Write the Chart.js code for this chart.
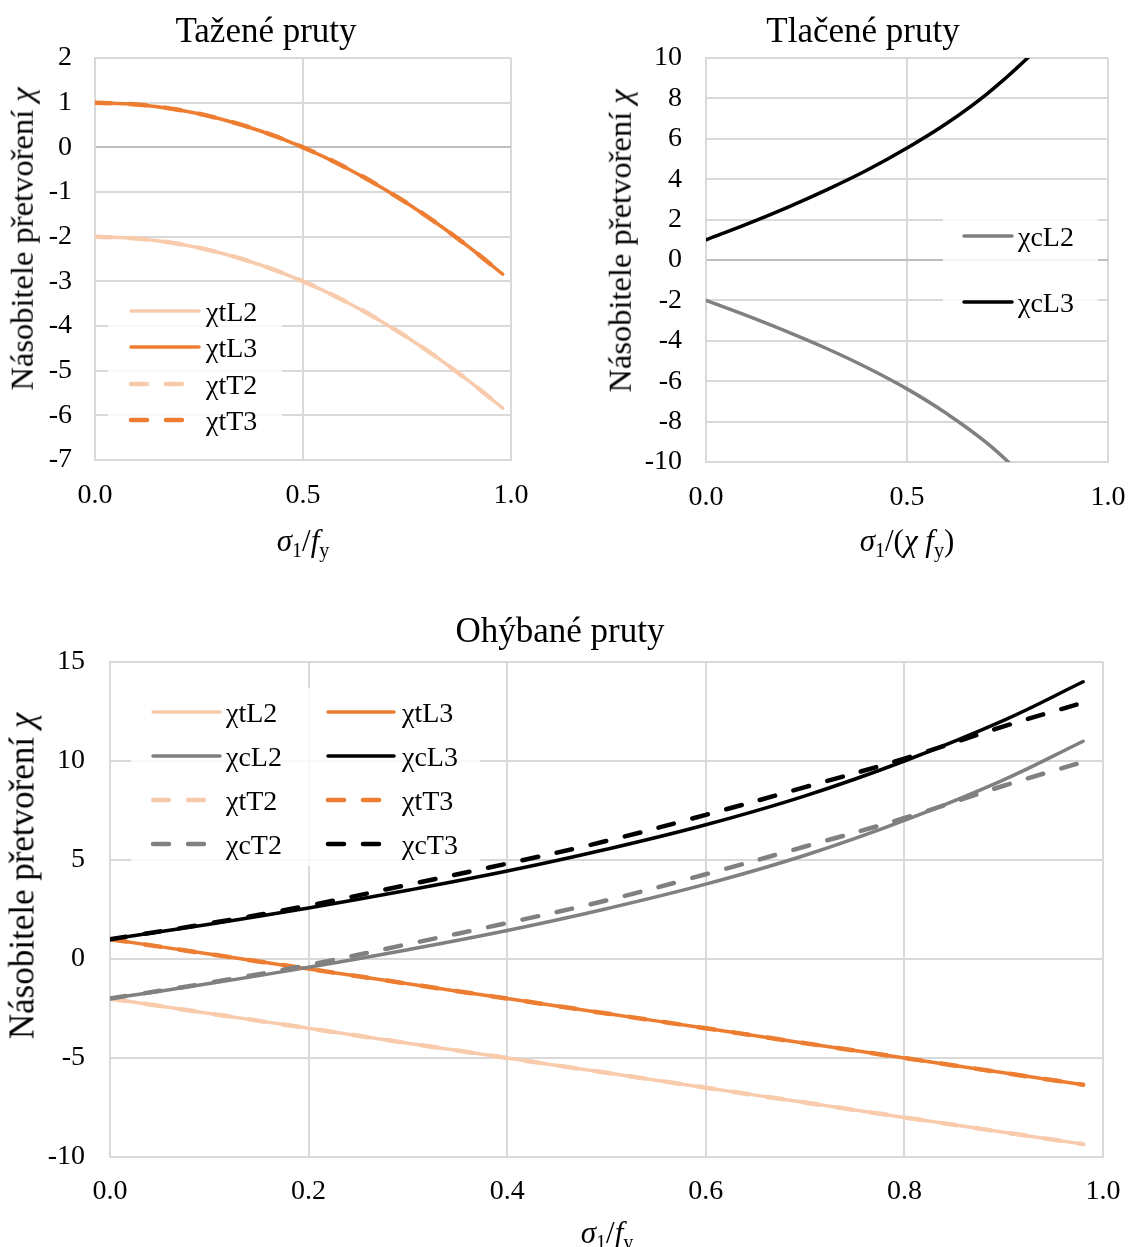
<!DOCTYPE html>
<html lang="cs">
<head>
<meta charset="utf-8">
<title>Násobitele přetvoření</title>
<script src="https://cdn.jsdelivr.net/npm/chart.js@4.4.0/dist/chart.umd.min.js"></script>
<style>
  body { margin: 0; background: #fff; }
  #page { position: relative; width: 1131px; height: 1247px; font-family: "Liberation Serif", "Times New Roman", serif; color: #000; overflow: hidden; }
  #page canvas { position: absolute; }
  .lbl { position: absolute; white-space: nowrap; transform: translate(-50%, -50%); line-height: 1; }
  .rot { transform: translate(-50%, -50%) rotate(-90deg); }
  .ttl { font-size: 35px; }
  .ax { font-size: 31px; }
  .ax.big { font-size: 35px; }
  .ax.mid { font-size: 32.5px; }
  sub { font-size: 65%; vertical-align: -0.3em; line-height: 0; }
</style>
</head>
<body>
<div id="page">
  <canvas id="chartTah" width="560" height="560" style="left:0;top:0"></canvas>
  <canvas id="chartTlak" width="551" height="560" style="left:580px;top:0"></canvas>
  <canvas id="chartOhyb" width="1131" height="667" style="left:0;top:580px"></canvas>

  <div class="lbl ttl" style="left:266px;top:30px">Tažené pruty</div>
  <div class="lbl ttl" style="left:863px;top:30px">Tlačené pruty</div>
  <div class="lbl ttl" style="left:560px;top:630px">Ohýbané pruty</div>

  <div class="lbl ax mid rot" style="left:22px;top:239px">Násobitele přetvoření <i>χ</i></div>
  <div class="lbl ax mid rot" style="left:620px;top:241px">Násobitele přetvoření <i>χ</i></div>
  <div class="lbl ax big rot" style="left:22px;top:876px">Násobitele přetvoření <i>χ</i></div>

  <div class="lbl ax" style="left:303px;top:540px"><i>σ</i><sub>1</sub>/<i>f</i><sub>y</sub></div>
  <div class="lbl ax" style="left:907px;top:540px"><i>σ</i><sub>1</sub>/(<i>χ f</i><sub>y</sub>)</div>
  <div class="lbl ax" style="left:607px;top:1232px"><i>σ</i><sub>1</sub>/<i>f</i><sub>y</sub></div>
</div>

<script>
// --- data: Tažené pruty (x = σ1/fy) ---
const sTah = [0, 0.1, 0.2, 0.3, 0.4, 0.5, 0.6, 0.7, 0.8, 0.9, 0.98];
const tahL2 = [-2, -2.04, -2.16, -2.36, -2.64, -3, -3.44, -3.96, -4.56, -5.24, -5.84];
const tahL3 = [1, 0.96, 0.84, 0.64, 0.36, 0, -0.44, -0.96, -1.56, -2.24, -2.84];
const tahT2 = [-2, -2.04, -2.16, -2.36, -2.64, -3, -3.44, -3.96, -4.56, -5.24, -5.84];
const tahT3 = [1, 0.96, 0.84, 0.64, 0.36, 0, -0.44, -0.96, -1.56, -2.24, -2.84];

// --- data: Tlačené pruty (x = σ1/(χ fy)), mimo rozsah osy se ořízne ---
const sTlakL2 = [0, 0.1, 0.2, 0.3, 0.4, 0.5, 0.6, 0.7, 0.8];
const tlakL2 = [-2, -2.74, -3.53, -4.38, -5.32, -6.38, -7.62, -9.08, -10.9];
const sTlakL3 = [0, 0.1, 0.2, 0.3, 0.4, 0.5, 0.6, 0.7, 0.8, 0.9];
const tlakL3 = [1, 1.76, 2.58, 3.47, 4.44, 5.54, 6.78, 8.24, 10, 12.05];

// --- data: Ohýbané pruty (x = σ1/fy) ---
const sOhyb = [0, 0.1, 0.2, 0.3, 0.4, 0.5, 0.6, 0.7, 0.8, 0.9, 0.98];
const ohybTL2 = [-2, -2.75, -3.5, -4.25, -5, -5.75, -6.5, -7.25, -8, -8.75, -9.35];
const ohybTL3 = [1, 0.25, -0.5, -1.25, -2, -2.75, -3.5, -4.25, -5, -5.75, -6.35];
const ohybCL2 = [-2, -1.24, -0.42, 0.47, 1.44, 2.54, 3.78, 5.24, 7, 9.05, 11];
const ohybCL3 = [1, 1.76, 2.58, 3.47, 4.44, 5.54, 6.78, 8.24, 10, 12.05, 14];
const ohybTT2 = [-2, -2.75, -3.5, -4.25, -5, -5.75, -6.5, -7.25, -8, -8.75, -9.35];
const ohybTT3 = [1, 0.25, -0.5, -1.25, -2, -2.75, -3.5, -4.25, -5, -5.75, -6.35];
const ohybCT2 = [-2, -1.2, -0.3, 0.75, 1.82, 2.96, 4.28, 5.68, 7.12, 8.75, 9.95];
const ohybCT3 = [1, 1.8, 2.7, 3.75, 4.82, 5.96, 7.28, 8.68, 10.12, 11.75, 12.95];

// barvy jako v Excelu
const C_LIGHT = '#F8CBAD';
const C_ORANGE = '#ED7D31';
const C_GRAY = '#808080';
const C_BLACK = '#000000';
const GRID = '#D9D9D9';
const AXIS0 = '#BFBFBF';
const FONT = '"Liberation Serif", "Times New Roman", serif';

Chart.defaults.font.family = FONT;
Chart.defaults.color = '#000';
Chart.defaults.animation = false;

function pts(xs, ys) {
    return xs.map((x, i) => ({ x: x, y: ys[i] }));
}

function series(label, xs, ys, color, dashed) {
    return {
        label: label,
        data: pts(xs, ys),
        borderColor: color,
        backgroundColor: color,
        borderWidth: dashed ? 4.5 : 3.5,
        borderDash: dashed ? [16, 19] : [],
        borderCapStyle: 'round',
        borderJoinStyle: 'round',
        pointRadius: 0,
        tension: 0.4,
        fill: false
    };
}

// pozdější řada se kreslí navrch (jako Excel)
function stackOrder(datasets) {
    datasets.forEach((ds, i) => { ds.order = datasets.length - i; });
    return datasets;
}

// legenda uvnitř grafu s bílým podkladem
function boxLegend(cfg) {
    return {
        id: 'boxLegend',
        afterDatasetsDraw(chart) {
            const ctx = chart.ctx;
            ctx.save();
            ctx.fillStyle = 'rgba(255,255,255,0.82)';
            ctx.fillRect(cfg.box[0], cfg.box[1], cfg.box[2], cfg.box[3]);
            ctx.font = cfg.fontSize + 'px ' + FONT;
            ctx.textBaseline = 'middle';
            chart.data.datasets.forEach((ds, i) => {
                const c = cfg.cols[i % cfg.cols.length];
                const y = cfg.rows[Math.floor(i / cfg.cols.length)];
                ctx.strokeStyle = ds.borderColor;
                ctx.lineWidth = ds.borderWidth;
                ctx.lineCap = 'round';
                ctx.setLineDash(ds.borderDash || []);
                ctx.beginPath();
                ctx.moveTo(c[0], y);
                ctx.lineTo(c[1], y);
                ctx.stroke();
                ctx.setLineDash([]);
                ctx.fillStyle = '#000';
                ctx.fillText(ds.label, c[2], y + cfg.textDy);
            });
            ctx.restore();
        }
    };
}

function makeScales(o) {
    return {
        x: {
            type: 'linear', min: 0, max: 1,
            // pevná výška osy, přesahy popisků neubírají plochu grafu
            afterFit: s => { s.height = 60; s.paddingLeft = 0; s.paddingRight = 0; },
            ticks: { stepSize: o.xStep, padding: o.xPad, font: { size: o.tick }, callback: v => Number(v).toFixed(1) },
            grid: { color: GRID, lineWidth: 2, drawTicks: false },
            border: { color: GRID, width: 2 }
        },
        y: {
            min: o.yMin, max: o.yMax,
            afterFit: s => { s.width = o.yWidth; s.paddingTop = 0; s.paddingBottom = 0; },
            ticks: { stepSize: o.yStep, padding: o.yPad, font: { size: o.tick } },
            grid: {
                color: c => (o.zeroDark && c.tick && c.tick.value === 0) ? AXIS0 : GRID,
                lineWidth: 2, drawTicks: false
            },
            border: { color: GRID, width: 2 }
        }
    };
}

const baseOpts = {
    responsive: false,
    maintainAspectRatio: false,
    plugins: { legend: { display: false }, tooltip: { enabled: false } }
};

function drawAll() {
    // Tažené pruty
    new Chart(document.getElementById('chartTah'), {
        type: 'line',
        data: {
            datasets: stackOrder([
                series('χtL2', sTah, tahL2, C_LIGHT, false),
                series('χtL3', sTah, tahL3, C_ORANGE, false),
                series('χtT2', sTah, tahT2, C_LIGHT, true),
                series('χtT3', sTah, tahT3, C_ORANGE, true)
            ])
        },
        options: Object.assign({}, baseOpts, {
            layout: { padding: { left: 0, top: 58, right: 49, bottom: 40 } },
            scales: makeScales({ xStep: 0.5, xPad: 19, yMin: -7, yMax: 2, yStep: 1, yWidth: 95, yPad: 23, tick: 28, zeroDark: true })
        }),
        plugins: [boxLegend({
            box: [108, 292, 174, 146], fontSize: 28, textDy: 3,
            cols: [[131, 199, 206]], rows: [311, 347, 384, 420]
        })]
    });

    // Tlačené pruty
    new Chart(document.getElementById('chartTlak'), {
        type: 'line',
        data: {
            datasets: stackOrder([
                series('χcL2', sTlakL2, tlakL2, C_GRAY, false),
                series('χcL3', sTlakL3, tlakL3, C_BLACK, false)
            ])
        },
        options: Object.assign({}, baseOpts, {
            layout: { padding: { left: 0, top: 58, right: 23, bottom: 38 } },
            scales: makeScales({ xStep: 0.5, xPad: 19, yMin: -10, yMax: 10, yStep: 2, yWidth: 126, yPad: 24, tick: 28, zeroDark: true })
        }),
        plugins: [boxLegend({
            box: [363, 218, 155, 95], fontSize: 28, textDy: 3,
            cols: [[384, 432, 438]], rows: [236, 302]
        })]
    });

    // Ohýbané pruty
    new Chart(document.getElementById('chartOhyb'), {
        type: 'line',
        data: {
            datasets: stackOrder([
                series('χtL2', sOhyb, ohybTL2, C_LIGHT, false),
                series('χtL3', sOhyb, ohybTL3, C_ORANGE, false),
                series('χcL2', sOhyb, ohybCL2, C_GRAY, false),
                series('χcL3', sOhyb, ohybCL3, C_BLACK, false),
                series('χtT2', sOhyb, ohybTT2, C_LIGHT, true),
                series('χtT3', sOhyb, ohybTT3, C_ORANGE, true),
                series('χcT2', sOhyb, ohybCT2, C_GRAY, true),
                series('χcT3', sOhyb, ohybCT3, C_BLACK, true)
            ])
        },
        options: Object.assign({}, baseOpts, {
            layout: { padding: { left: 0, top: 82, right: 28, bottom: 30 } },
            scales: makeScales({ xStep: 0.2, xPad: 18, yMin: -10, yMax: 15, yStep: 5, yWidth: 110, yPad: 25, tick: 28, zeroDark: false })
        }),
        plugins: [boxLegend({
            box: [131, 108, 349, 178], fontSize: 28, textDy: 3,
            cols: [[153, 220, 226], [328, 394, 402]], rows: [132, 176, 220, 264]
        })]
    });
}

// patkové písmo musí být načtené dřív, než canvas kreslí text
if (document.fonts && document.fonts.load) {
    Promise.all([
        document.fonts.load('28px "Liberation Serif"'),
        document.fonts.load('italic 28px "Liberation Serif"')
    ]).then(drawAll, drawAll);
} else {
    drawAll();
}
</script>
</body>
</html>
